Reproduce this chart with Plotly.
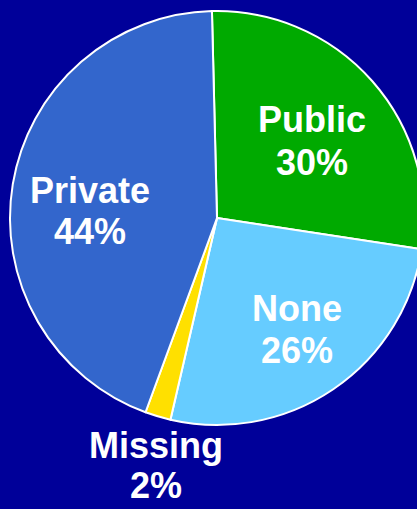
import plotly.graph_objects as go

# Data
categories = ["Public", "None", "Missing", "Private"]
values = [27.8, 26.2, 2.0, 44.0]
pct_labels = ["30%", "26%", "2%", "44%"]
colors = ["#00AA00", "#66CCFF", "#FFE000", "#3366CC"]

W, H = 430, 509
BG = "#000099"

# pie placement in pixels (center x, center y, radius)
cx, cy, r = 217, 218, 207

fig = go.Figure(go.Pie(
    labels=categories,
    values=values,
    sort=False,
    direction="clockwise",
    rotation=-1.4,
    marker=dict(colors=colors, line=dict(color="white", width=2)),
    textinfo="none",
    hoverinfo="label+percent",
    showlegend=False,
    domain=dict(x=[(cx - r) / W, (cx + r) / W],
                y=[(H - cy - r) / H, (H - cy + r) / H]),
))

# label positions (pixels): name line centre, pct line centre
label_pos = {
    "Public": (312, 119, 162),
    "None": (297, 308, 350),
    "Missing": (156, 445, 485),
    "Private": (90, 190, 231),
}
font = dict(family="Liberation Sans, Arial, sans-serif", size=36, color="white")
for cat, pct in zip(categories, pct_labels):
    x, y1, y2 = label_pos[cat]
    for txt, yy in ((f"<b>{cat}</b>", y1), (f"<b>{pct}</b>", y2)):
        fig.add_annotation(x=x / W, y=1 - yy / H, xref="paper", yref="paper",
                           text=txt, showarrow=False, font=font,
                           xanchor="center", yanchor="middle")

fig.update_layout(
    width=W, height=H,
    margin=dict(l=0, r=0, t=0, b=0),
    paper_bgcolor=BG, plot_bgcolor=BG,
)

fig.write_html("out.html",
               config={"displayModeBar": False},
               post_script="document.body.style.margin='0';document.body.style.overflow='hidden';document.documentElement.style.overflow='hidden';")
